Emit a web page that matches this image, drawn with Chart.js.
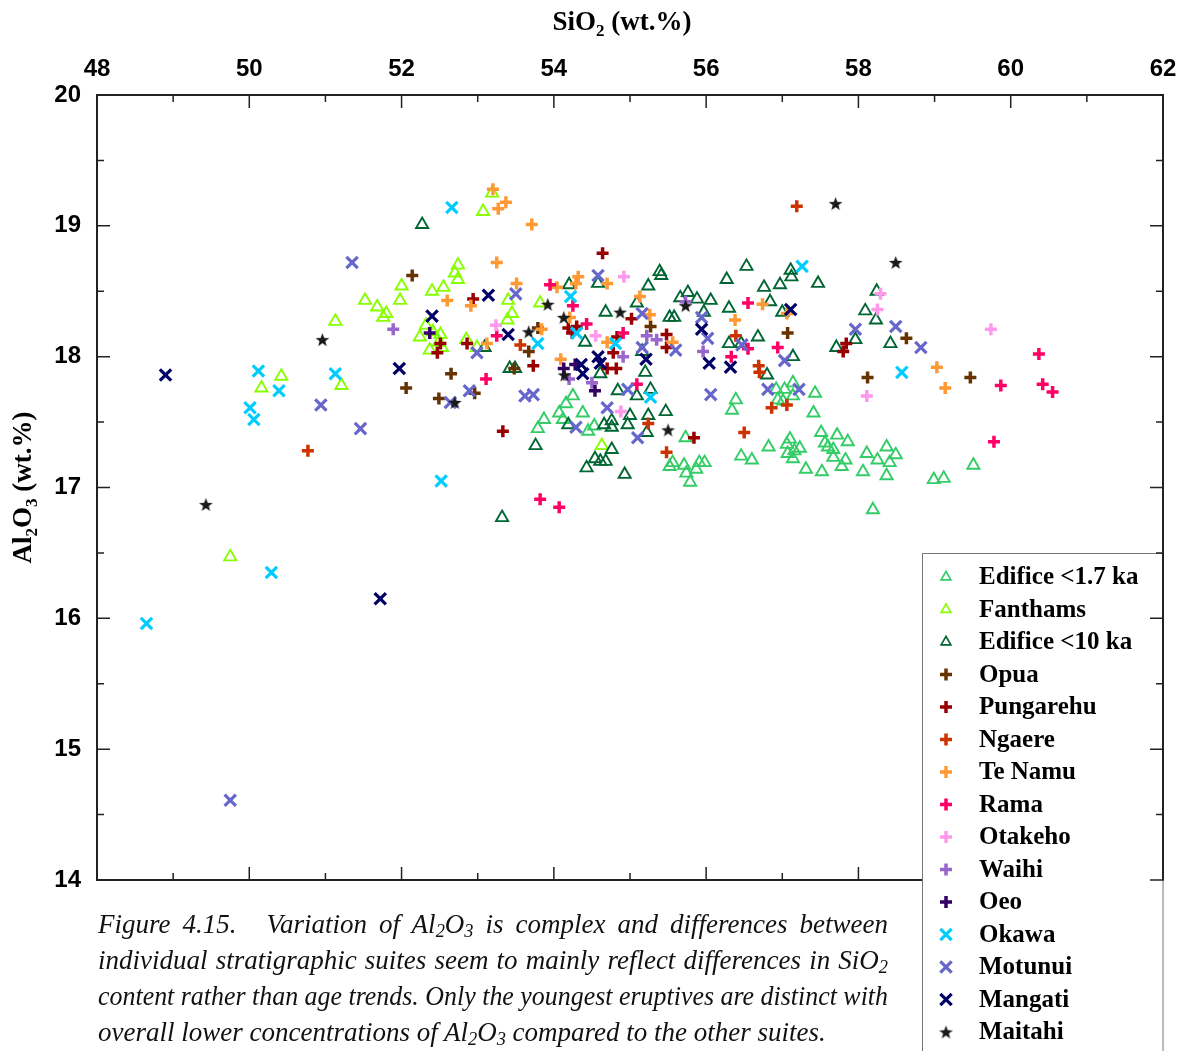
<!DOCTYPE html>
<html>
<head>
<meta charset="utf-8">
<title>Al2O3 vs SiO2</title>
<script src="https://cdn.jsdelivr.net/npm/chart.js@4.4.1/dist/chart.umd.min.js"></script>
<style>
  html, body { margin: 0; padding: 0; background: #fff; }
  #wrap { position: relative; width: 1184px; height: 1051px; overflow: hidden; }
  #chart { position: absolute; left: 0; top: 0; }
  #caption {
    position: absolute; left: 98px; top: 906px; width: 790px;
    font-family: 'Liberation Serif', serif; font-style: italic;
    font-size: 27px; line-height: 36px; color: #111;
  }
  #caption .line { white-space: nowrap; height: 36px; }
  #caption .line > span { display: inline-block; transform-origin: 0 0; }
  #caption .gap { display: inline-block; width: 18px; }
  #caption sub { font-size: 0.68em; line-height: 0; vertical-align: -0.22em; }
</style>
</head>
<body>
<div id="wrap">
  <canvas id="chart" width="1184" height="1051"></canvas>
  <div id="caption">
    <div class="line"><span>Figure 4.15.<span class="gap"></span> Variation of Al<sub>2</sub>O<sub>3</sub> is complex and differences between</span></div>
    <div class="line"><span>individual stratigraphic suites seem to mainly reflect differences in SiO<sub>2</sub></span></div>
    <div class="line"><span>content rather than age trends. Only the youngest eruptives are distinct with</span></div>
    <div class="line last"><span>overall lower concentrations of Al<sub>2</sub>O<sub>3</sub> compared to the other suites.</span></div>
  </div>
</div>
<script>
// SiO2 (x) and Al2O3 (y), wt.%, per stratigraphic suite
const edifice17X = [54.25, 54.16, 54.07, 54.38, 53.87, 53.79, 54.12, 54.45, 54.53, 55.73, 55.56, 55.52, 55.71, 55.74, 55.79, 55.87, 55.91, 55.98, 56.39, 56.34, 56.46, 56.60, 56.82, 57.06, 57.10, 57.16, 57.07, 57.23, 57.14, 56.92, 57.03, 57.14, 57.14, 56.94, 57.01, 57.43, 57.41, 57.51, 57.56, 57.60, 57.67, 57.72, 57.86, 57.67, 57.83, 57.31, 57.52, 57.78, 58.11, 58.25, 58.37, 58.41, 58.49, 58.06, 58.37, 58.19, 58.99, 59.12, 59.51];
const edifice17Y = [17.70, 17.64, 17.57, 17.57, 17.52, 17.45, 17.52, 17.43, 17.47, 17.38, 17.19, 17.16, 17.17, 17.11, 17.04, 17.14, 17.19, 17.19, 17.67, 17.59, 17.24, 17.21, 17.31, 17.33, 17.37, 17.28, 17.26, 17.30, 17.22, 17.75, 17.75, 17.80, 17.70, 17.67, 17.66, 17.72, 17.57, 17.42, 17.34, 17.31, 17.29, 17.40, 17.35, 17.23, 17.21, 17.14, 17.12, 17.16, 17.26, 17.21, 17.31, 17.19, 17.25, 17.12, 17.09, 16.83, 17.06, 17.07, 17.17];

const fanthamsX = [49.75, 50.42, 50.16, 51.13, 51.21, 51.52, 51.68, 51.80, 51.76, 51.98, 52.00, 52.40, 52.55, 52.74, 52.70, 52.74, 52.32, 52.24, 52.41, 52.51, 52.49, 52.37, 52.53, 52.85, 52.99, 53.40, 53.45, 53.39, 53.82, 53.07, 53.19, 54.63];
const fanthamsY = [16.47, 17.85, 17.76, 18.27, 17.78, 18.43, 18.38, 18.33, 18.30, 18.43, 18.54, 18.50, 18.53, 18.70, 18.64, 18.59, 18.24, 18.15, 18.19, 18.17, 18.11, 18.05, 18.07, 18.13, 18.07, 18.43, 18.33, 18.28, 18.41, 19.11, 19.25, 17.32];

const edifice10X = [52.27, 54.20, 54.41, 53.09, 53.42, 53.49, 53.76, 53.32, 54.19, 54.43, 54.58, 55.24, 55.39, 55.41, 55.76, 55.66, 55.88, 56.06, 55.09, 54.68, 55.97, 55.52, 55.58, 55.16, 56.30, 56.27, 56.53, 56.76, 56.97, 57.11, 57.12, 57.47, 56.84, 57.00, 56.68, 56.30, 57.14, 57.71, 57.96, 58.09, 58.23, 58.24, 58.42, 55.20, 54.61, 54.84, 55.09, 55.27, 55.47, 54.93, 54.54, 54.61, 54.68, 54.76, 54.76, 54.66, 55.00, 55.24, 55.22, 56.80, 54.76, 54.97, 56.46];
const edifice10Y = [19.01, 18.55, 18.11, 18.07, 17.91, 17.91, 17.32, 16.77, 17.48, 17.15, 18.56, 18.54, 18.65, 18.62, 18.49, 18.45, 18.44, 18.43, 18.41, 18.34, 18.34, 18.30, 18.30, 18.04, 18.37, 18.59, 18.69, 18.53, 18.55, 18.66, 18.61, 18.56, 18.42, 18.34, 18.15, 18.10, 18.00, 18.07, 18.13, 18.35, 18.28, 18.50, 18.10, 17.88, 17.87, 17.74, 17.70, 17.75, 17.58, 17.10, 17.22, 17.20, 17.20, 17.29, 17.51, 17.48, 17.55, 17.55, 17.42, 17.86, 17.46, 17.48, 18.10];

const opuaX = [52.14, 52.65, 52.06, 52.49, 52.96, 53.67, 53.79, 53.48, 55.27, 57.07, 58.12, 58.63, 59.47];
const opuaY = [18.62, 17.87, 17.76, 17.68, 17.72, 18.04, 18.22, 17.91, 18.23, 18.18, 17.84, 18.14, 17.84];

const pungarehuX = [54.64, 55.02, 54.19, 54.24, 54.30, 54.83, 54.78, 54.70, 54.82, 55.48, 55.48, 53.73, 53.33, 55.84, 57.84, 57.80, 52.94, 52.51, 52.47, 52.86];
const pungarehuY = [18.79, 18.29, 18.22, 18.18, 18.23, 18.15, 18.03, 17.91, 17.91, 18.17, 18.07, 17.93, 17.43, 17.38, 18.10, 18.04, 18.44, 18.10, 18.03, 18.10];

const ngaereX = [57.19, 50.77, 53.56, 56.39, 56.69, 56.70, 56.86, 57.06, 56.50, 55.48, 55.24];
const ngaereY = [19.15, 17.28, 18.09, 18.16, 17.93, 17.88, 17.61, 17.63, 17.42, 17.27, 17.49];

const teNamuX = [53.20, 53.37, 53.27, 53.71, 53.25, 53.51, 54.04, 54.32, 54.29, 52.60, 52.91, 53.12, 54.21, 53.84, 54.70, 55.26, 55.56, 54.09, 54.70, 56.38, 56.74, 55.13, 59.03, 59.14, 57.06];
const teNamuY = [19.28, 19.18, 19.13, 19.01, 18.72, 18.56, 18.53, 18.61, 18.56, 18.43, 18.39, 18.10, 18.30, 18.21, 18.56, 18.32, 18.11, 17.98, 18.11, 18.28, 18.40, 18.46, 17.92, 17.76, 18.33];

const ramaX = [53.11, 53.25, 53.82, 54.07, 53.95, 54.25, 54.43, 54.91, 55.09, 56.33, 56.55, 56.55, 56.94, 60.37, 59.87, 60.42, 60.55, 59.78];
const ramaY = [17.83, 18.16, 16.91, 16.85, 18.55, 18.39, 18.25, 18.18, 17.79, 18.00, 18.41, 18.06, 18.07, 18.02, 17.78, 17.79, 17.73, 17.35];

const otakehoX = [53.24, 54.92, 54.55, 54.88, 58.25, 58.29, 58.11, 59.74];
const otakehoY = [18.24, 18.61, 18.16, 17.58, 18.36, 18.48, 17.70, 18.21];

const waihiX = [51.89, 54.20, 54.50, 54.91, 55.22, 55.35, 55.96, 55.73];
const waihiY = [18.21, 17.83, 17.80, 18.00, 18.16, 18.13, 18.04, 18.42];

const oeoX = [52.37, 54.13, 54.28, 54.54];
const oeoY = [18.18, 17.91, 17.94, 17.74];

const okawaX = [48.65, 50.12, 50.39, 50.01, 50.06, 51.13, 52.52, 50.29, 52.66, 54.22, 53.79, 54.30, 54.81, 55.27, 57.26, 58.57];
const okawaY = [15.96, 17.89, 17.74, 17.61, 17.52, 17.87, 17.05, 16.35, 19.14, 18.46, 18.10, 18.18, 18.10, 17.69, 18.69, 17.88];

const motunuiX = [49.75, 51.35, 50.94, 51.46, 52.64, 52.89, 53.62, 53.73, 52.99, 54.29, 53.50, 54.58, 55.16, 55.94, 56.02, 55.60, 55.16, 54.70, 54.97, 55.10, 56.06, 56.81, 57.03, 57.22, 57.96, 58.49, 58.82, 56.47];
const motunuiY = [14.61, 18.72, 17.63, 17.45, 17.65, 17.74, 17.70, 17.71, 18.03, 17.46, 18.48, 18.62, 18.33, 18.30, 18.14, 18.05, 18.07, 17.61, 17.75, 17.38, 17.71, 17.75, 17.97, 17.75, 18.21, 18.23, 18.07, 18.09];

const mangatiX = [48.90, 51.72, 51.97, 52.40, 53.14, 53.40, 54.36, 54.38, 54.58, 54.61, 55.21, 55.94, 56.04, 56.32, 57.11];
const mangatiY = [17.86, 16.15, 17.91, 18.31, 18.47, 18.17, 17.94, 17.87, 18.00, 17.95, 17.98, 18.21, 17.95, 17.92, 18.36];

const maitahiX = [57.70, 58.49, 50.96, 49.43, 52.70, 53.92, 54.13, 53.67, 54.87, 55.73, 55.50, 54.14];
const maitahiY = [19.17, 18.72, 18.13, 16.87, 17.65, 18.40, 18.30, 18.19, 18.34, 18.39, 17.44, 17.86];

const suiteNames = ['Edifice <1.7 ka', 'Fanthams', 'Edifice <10 ka', 'Opua', 'Pungarehu', 'Ngaere',
  'Te Namu', 'Rama', 'Otakeho', 'Waihi', 'Oeo', 'Okawa', 'Motunui', 'Mangati', 'Maitahi'];

// small filled five-point star used for Maitahi
function makeStar(size, color) {
  const c = document.createElement('canvas');
  c.width = size; c.height = size;
  const g = c.getContext('2d');
  const cx = size / 2, cy = size / 2 + 0.6, ro = size / 2 - 0.3, ri = ro * 0.42;
  g.beginPath();
  for (let i = 0; i < 10; i++) {
    const r = i % 2 === 0 ? ro : ri;
    const a = -Math.PI / 2 + i * Math.PI / 5;
    g.lineTo(cx + r * Math.cos(a), cy + r * Math.sin(a));
  }
  g.closePath();
  g.fillStyle = color;
  g.fill();
  return c;
}
const starMark = makeStar(15, '#1a1a1a');

const suites = [
  { x: edifice17X, y: edifice17Y, color: '#33cc66', style: 'triangle' },
  { x: fanthamsX, y: fanthamsY, color: '#88ff00', style: 'triangle' },
  { x: edifice10X, y: edifice10Y, color: '#006633', style: 'triangle' },
  { x: opuaX, y: opuaY, color: '#663300', style: 'cross' },
  { x: pungarehuX, y: pungarehuY, color: '#990000', style: 'cross' },
  { x: ngaereX, y: ngaereY, color: '#cc3300', style: 'cross' },
  { x: teNamuX, y: teNamuY, color: '#ff9933', style: 'cross' },
  { x: ramaX, y: ramaY, color: '#ff0066', style: 'cross' },
  { x: otakehoX, y: otakehoY, color: '#ff99ee', style: 'cross' },
  { x: waihiX, y: waihiY, color: '#9966cc', style: 'cross' },
  { x: oeoX, y: oeoY, color: '#330066', style: 'cross' },
  { x: okawaX, y: okawaY, color: '#00ccff', style: 'crossRot' },
  { x: motunuiX, y: motunuiY, color: '#6666cc', style: 'crossRot' },
  { x: mangatiX, y: mangatiY, color: '#000066', style: 'crossRot' },
  { x: maitahiX, y: maitahiY, color: '#1a1a1a', style: starMark }
];

const markerSize = { triangle: [7, 1.9], cross: [6, 3.5], crossRot: [8, 3.2] };

const datasets = suites.map((s, i) => {
  const key = typeof s.style === 'string' ? s.style : 'star';
  const [r, bw] = markerSize[key] || [7, 0];
  return {
    label: suiteNames[i],
    data: s.x.map((v, k) => ({ x: v, y: s.y[k] })),
    pointStyle: s.style,
    pointRadius: r,
    pointBorderWidth: bw,
    borderColor: s.color,
    backgroundColor: 'rgba(0,0,0,0)',
    order: -i
  };
});

function drawMarker(ctx, style, color, cx, cy) {
  if (typeof style !== 'string') {
    ctx.drawImage(style, cx - style.width / 2, cy - style.height / 2);
    return;
  }
  const [r, bw] = markerSize[style];
  ctx.strokeStyle = color;
  ctx.lineWidth = bw;
  ctx.beginPath();
  if (style === 'triangle') {
    const rr = r * 0.8;
    ctx.lineWidth = 1.7;
    for (let i = 0; i < 3; i++) {
      const a = i * 2 * Math.PI / 3;
      ctx.lineTo(cx + Math.sin(a) * rr, cy - Math.cos(a) * rr);
    }
    ctx.closePath();
  } else if (style === 'cross') {
    ctx.moveTo(cx - r, cy); ctx.lineTo(cx + r, cy);
    ctx.moveTo(cx, cy - r); ctx.lineTo(cx, cy + r);
  } else {
    const d = r * Math.SQRT1_2;
    ctx.moveTo(cx - d, cy - d); ctx.lineTo(cx + d, cy + d);
    ctx.moveTo(cx - d, cy + d); ctx.lineTo(cx + d, cy - d);
  }
  ctx.stroke();
}

// frame, inward ticks on all four sides, subscripted axis titles and the legend box
const framePlugin = {
  id: 'frame',
  afterDraw(chart) {
    const { ctx, chartArea: a, scales } = chart;
    const xs = scales.x, ys = scales.y;
    ctx.save();

    const sideTicks = (sides) => {
      ctx.beginPath();
      for (let v = xs.min; v <= xs.max + 1e-9; v += 1) {
        const px = xs.getPixelForValue(v);
        const len = v % 2 === 0 ? 13 : 7;
        if (sides.includes('top')) { ctx.moveTo(px, a.top); ctx.lineTo(px, a.top + len); }
        if (sides.includes('bottom')) { ctx.moveTo(px, a.bottom); ctx.lineTo(px, a.bottom - len); }
      }
      for (let v = ys.min; v <= ys.max + 1e-9; v += 0.5) {
        const py = ys.getPixelForValue(v);
        const len = Number.isInteger(v) ? 13 : 7;
        if (sides.includes('left')) { ctx.moveTo(a.left, py); ctx.lineTo(a.left + len, py); }
        if (sides.includes('right')) { ctx.moveTo(a.right, py); ctx.lineTo(a.right - len, py); }
      }
      ctx.stroke();
    };

    ctx.strokeStyle = '#222';
    ctx.lineWidth = 2;
    ctx.strokeRect(a.left, a.top, a.right - a.left, a.bottom - a.top);
    ctx.lineWidth = 1.5;
    sideTicks(['top', 'bottom', 'left']);

    // legend
    const lx = 922.5, ly = 553.5, lw = a.right - lx, lh = 520, step = 32.5;
    ctx.fillStyle = '#fff';
    ctx.fillRect(lx, ly, lw, lh);
    ctx.strokeStyle = '#777';
    ctx.lineWidth = 1;
    ctx.strokeRect(lx, ly, lw, lh);
    ctx.font = 'bold 25px "Liberation Serif", serif';
    ctx.textBaseline = 'middle';
    ctx.textAlign = 'left';
    suites.forEach((s, i) => {
      const cy = 577 + i * step;
      drawMarker(ctx, s.style, s.color, 946, cy);
      ctx.fillStyle = '#000';
      ctx.fillText(suiteNames[i], 979, cy + 1);
    });

    // right axis stays visible over the legend
    ctx.strokeStyle = '#222';
    ctx.lineWidth = 2;
    ctx.beginPath();
    ctx.moveTo(a.right, a.top); ctx.lineTo(a.right, a.bottom);
    ctx.stroke();
    ctx.lineWidth = 1.5;
    sideTicks(['right']);

    // axis titles with subscripts
    const titleFont = 'bold 27px "Liberation Serif", serif';
    const subFont = 'bold 17px "Liberation Serif", serif';
    const parts = (items) => {
      let w = 0;
      items.forEach(p => { ctx.font = p[1] ? subFont : titleFont; w += ctx.measureText(p[0]).width; });
      return w;
    };
    const drawParts = (items, x0, base) => {
      let x = x0;
      items.forEach(p => {
        ctx.font = p[1] ? subFont : titleFont;
        ctx.fillText(p[0], x, p[1] ? base + 6 : base);
        x += ctx.measureText(p[0]).width;
      });
    };
    ctx.fillStyle = '#000';
    ctx.textBaseline = 'alphabetic';
    const xTitle = [['SiO', false], ['2', true], [' (wt.%)', false]];
    const xw = parts(xTitle);
    drawParts(xTitle, (a.left + a.right) / 2 - xw / 2 - 8, 30);

    const yTitle = [['Al', false], ['2', true], ['O', false], ['3', true], [' (wt.%)', false]];
    const yw = parts(yTitle);
    ctx.translate(31, (a.top + a.bottom) / 2);
    ctx.rotate(-Math.PI / 2);
    drawParts(yTitle, -yw / 2, 0);
    ctx.restore();
  }
};

const tickFont = { family: '"Liberation Sans", Arial, sans-serif', weight: 'bold', size: 24 };

new Chart(document.getElementById('chart'), {
  type: 'scatter',
  data: { datasets },
  options: {
    responsive: false,
    animation: false,
    events: [],
    layout: { padding: { left: 0, top: 0, right: 21, bottom: 171 } },
    plugins: { legend: { display: false }, tooltip: { enabled: false } },
    scales: {
      x: {
        type: 'linear', position: 'top', min: 48, max: 62,
        afterFit: (scale) => { scale.height = 95; scale.paddingLeft = 0; scale.paddingRight = 0; },
        ticks: { stepSize: 2, font: tickFont, color: '#000', padding: 11 },
        grid: { display: false, drawTicks: false },
        border: { display: false }
      },
      y: {
        type: 'linear', position: 'left', min: 14, max: 20,
        afterFit: (scale) => { scale.width = 97; scale.paddingTop = 0; scale.paddingBottom = 0; },
        ticks: { stepSize: 1, font: tickFont, color: '#000', padding: 16 },
        grid: { display: false, drawTicks: false },
        border: { display: false }
      }
    }
  },
  plugins: [framePlugin]
});

// justify each caption line to the column width
document.querySelectorAll('#caption .line > span').forEach(span => {
  const target = 790;
  const w = span.getBoundingClientRect().width;
  if (span.parentElement.classList.contains('last')) {
    if (w > target) span.style.transform = 'scaleX(' + (target / w) + ')';
    return;
  }
  const gaps = (span.textContent.match(/ /g) || []).length;
  if (w < target && gaps) {
    span.style.wordSpacing = ((target - w) / gaps) + 'px';
  } else if (w > target) {
    span.style.transform = 'scaleX(' + (target / w) + ')';
  }
});
</script>
</body>
</html>
